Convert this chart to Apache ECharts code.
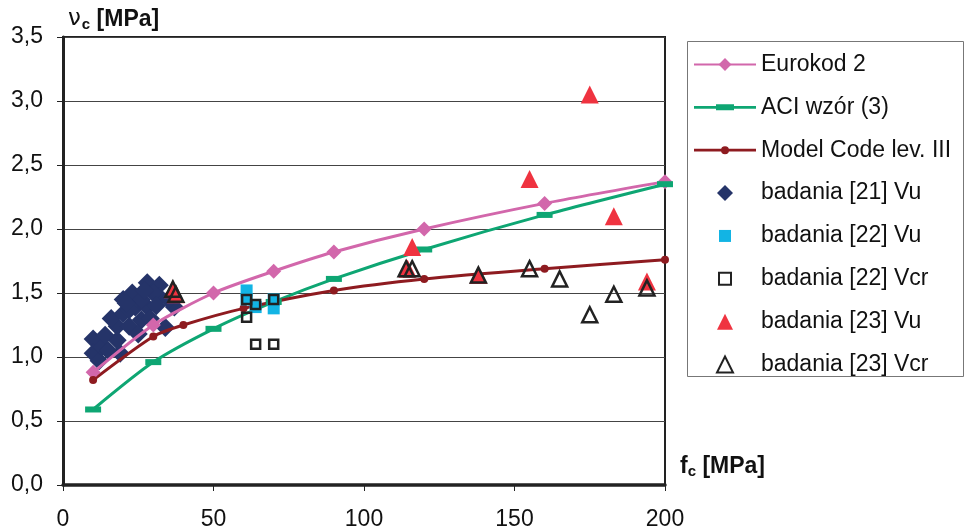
<!DOCTYPE html>
<html><head><meta charset="utf-8">
<script src="https://cdn.jsdelivr.net/npm/echarts@6/dist/echarts.min.js"></script>
<style>html,body{margin:0;padding:0;background:#fff}#c{width:964px;height:532px}</style>
</head><body><div id="c"></div>
<script>
// ---- data ----
const xTicks = [0, 50, 100, 150, 200];
const yTicks = [0, 0.5, 1.0, 1.5, 2.0, 2.5, 3.0, 3.5];

const ec2X = [10, 30, 50, 70, 90, 120, 160, 200];
const ec2Y = [0.88, 1.25, 1.50, 1.67, 1.82, 2.00, 2.20, 2.37];

const aciX = [10, 30, 50, 70, 90, 120, 160, 200];
const aciY = [0.59, 0.96, 1.22, 1.43, 1.61, 1.84, 2.11, 2.35];

const mcX = [10, 30, 40, 60, 90, 120, 160, 200];
const mcY = [0.82, 1.16, 1.25, 1.38, 1.52, 1.61, 1.69, 1.76];

const b21Vu = [[10,1.14],[10,1.03],[12,0.97],[13,1.08],[15,1.05],[19,1.03],[18,1.13],[18,1.24],
  [16,1.30],[20,1.34],[20,1.45],[23,1.50],[24,1.39],[28,1.58],[32,1.56],[32,1.47],[28,1.39],
  [26,1.29],[37,1.39],[34,1.23],[22,1.24],[22,1.37],[26,1.45],[30,1.50],[25,1.18],[35,1.45],[29,1.30],
  [14,1.17],[21,1.42],[27,1.52],[31,1.40]];
const b22Vu = [[61,1.52],[61,1.45],[64,1.39],[70,1.45],[70,1.38]];
const b22Vcr = [[61,1.45],[64,1.41],[70,1.45],[61,1.31],[64,1.10],[70,1.10]];
const b23Vu = [[36.5,1.53],[37.5,1.49],[114.5,1.69],[116,1.86],[138,1.64],[155,2.39],[175,3.05],[183,2.10],[194,1.59]];
const b23Vcr = [[36.5,1.53],[37.5,1.49],[114,1.69],[116,1.69],[138,1.64],[155,1.69],[165,1.61],[175,1.33],[183,1.49],[194,1.54]];

const names = ['Eurokod 2', 'ACI wzór (3)', 'Model Code lev. III', 'badania [21] Vu',
  'badania [22] Vu', 'badania [22] Vcr', 'badania [23] Vu', 'badania [23] Vcr'];

// ---- chart ----
const zip = (xs, ys) => xs.map((x, i) => [x, ys[i]]);
const FONT = '"Liberation Sans", Arial, sans-serif';
const chart = echarts.init(document.getElementById('c'), null, {renderer: 'canvas'});

const ROW = 42.86, T0 = 51.5, L0 = 693, IW = 62;
// legend box is positioned by its visible bounds, so shift by the empty part of the icon box
const legendBase = (top, h, data, narrow) => ({
  orient: 'vertical', left: narrow ? L0 + (IW - h) / 2 : L0, top: top, padding: 0,
  itemWidth: IW, itemHeight: h, itemGap: ROW - 26, symbolKeepAspect: true,
  textStyle: {fontSize: 23, color: '#111', fontFamily: FONT, lineHeight: 26},
  data: data
});
const aciIcon = 'path://M0,1.6 L22,1.6 L22,0 L40,0 L40,1.6 L62,1.6 L62,4.4 L40,4.4 L40,6 L22,6 L22,4.4 L0,4.4 Z';
const mcIcon = 'path://M0,2.6 L27.2,2.6 L27.2,5.4 L0,5.4 Z M34.8,2.6 L62,2.6 L62,5.4 L34.8,5.4 Z M27,4 A4,4 0 1,1 35,4 A4,4 0 1,1 27,4 Z';
const diamondIcon = 'path://M8,0 L16,8 L8,16 L0,8 Z';
const squareIcon = 'path://M0,0 L10,0 L10,10 L0,10 Z';
const triIcon = 'path://M8,0 L16,16 L0,16 Z';

chart.setOption({
  animation: false,
  textStyle: {fontFamily: FONT},
  grid: {left: 63, right: 299, top: 37, bottom: 47, show: true, borderColor: '#222', borderWidth: 2, containLabel: false},
  graphic: [{type: 'rect', shape: {x: 687.5, y: 41.5, width: 276, height: 335},
    style: {fill: 'none', stroke: '#777', lineWidth: 1}, silent: true}],
  legend: [
    legendBase(T0, 16, [{name: names[0]}, {name: names[1], icon: aciIcon}, {name: names[2], icon: mcIcon}, {name: names[3], icon: diamondIcon}], false),
    legendBase(T0 + 4 * ROW, 12, [{name: names[4], icon: squareIcon}, {name: names[5], icon: squareIcon}], true),
    legendBase(T0 + 6 * ROW, 16, [{name: names[6], icon: triIcon}, {name: names[7], icon: triIcon}], true)
  ],
  xAxis: {
    type: 'value', min: 0, max: 200, interval: 50,
    name: '{f|f}{s|c}{b| [MPa]}', nameLocation: 'end', nameGap: 15,
    nameTextStyle: {
      align: 'left', verticalAlign: 'bottom', padding: [0, 0, 6, 0],
      rich: {
        f: {fontSize: 23, fontWeight: 'bold', color: '#111', fontFamily: FONT},
        s: {fontSize: 15, fontWeight: 'bold', color: '#111', fontFamily: FONT, padding: [10, 0, 0, 0]},
        b: {fontSize: 23, fontWeight: 'bold', color: '#111', fontFamily: FONT}
      }
    },
    axisLine: {show: true, lineStyle: {color: '#222', width: 3.5}},
    axisTick: {show: true, length: 6, lineStyle: {color: '#222', width: 1}},
    axisLabel: {fontSize: 23, color: '#111', margin: 23, fontFamily: FONT,
      formatter: v => xTicks.includes(v) ? String(v) : ''},
    splitLine: {show: false}
  },
  yAxis: {
    type: 'value', min: 0, max: 3.5, interval: 0.5,
    name: '{n|ν}{s|c}{b| [MPa]}', nameLocation: 'end', nameGap: 5,
    nameTextStyle: {
      align: 'left', verticalAlign: 'bottom', padding: [0, 0, 0, 5],
      rich: {
        n: {fontSize: 23, color: '#111', fontFamily: '"DejaVu Sans", sans-serif'},
        s: {fontSize: 15, fontWeight: 'bold', color: '#111', fontFamily: FONT, padding: [10, 0, 0, 1]},
        b: {fontSize: 23, fontWeight: 'bold', color: '#111', fontFamily: FONT}
      }
    },
    axisLine: {show: true, lineStyle: {color: '#222', width: 3}},
    axisTick: {show: true, length: 6, lineStyle: {color: '#222', width: 1}},
    axisLabel: {fontSize: 23, color: '#111', margin: 20, fontFamily: FONT,
      formatter: v => yTicks.some(t => Math.abs(t - v) < 1e-9) ? v.toFixed(1).replace('.', ',') : ''},
    splitLine: {show: true, lineStyle: {color: '#444', width: 1}}
  },
  series: [
    {name: names[0], type: 'line', data: zip(ec2X, ec2Y), smooth: 0.25, z: 3,
      symbol: 'diamond', symbolSize: 15, lineStyle: {color: '#d267ab', width: 3}, itemStyle: {color: '#d267ab'}},
    {name: names[1], type: 'line', data: zip(aciX, aciY), smooth: 0.25, z: 3,
      symbol: 'rect', symbolSize: [16, 6], lineStyle: {color: '#0ea673', width: 3}, itemStyle: {color: '#0ea673'}},
    {name: names[2], type: 'line', data: zip(mcX, mcY), smooth: 0.25, z: 3,
      symbol: 'circle', symbolSize: 8, lineStyle: {color: '#8e1b20', width: 3}, itemStyle: {color: '#8e1b20'}},
    {name: names[3], type: 'scatter', data: b21Vu, z: 2, symbol: 'diamond', symbolSize: 19,
      itemStyle: {color: '#253469', opacity: 1}},
    {name: names[4], type: 'scatter', data: b22Vu, z: 4, symbol: 'rect', symbolSize: 12,
      itemStyle: {color: '#12b4e4', opacity: 1}},
    {name: names[5], type: 'scatter', data: b22Vcr, z: 5, symbol: 'rect', symbolSize: 9,
      itemStyle: {color: 'rgba(255,255,255,0)', borderColor: '#222', borderWidth: 2.5, opacity: 1}},
    {name: names[6], type: 'scatter', data: b23Vu, z: 4, symbol: 'triangle', symbolSize: 18,
      itemStyle: {color: '#ef3340', opacity: 1}},
    {name: names[7], type: 'scatter', data: b23Vcr, z: 5, symbol: 'triangle', symbolSize: 15,
      itemStyle: {color: 'rgba(255,255,255,0)', borderColor: '#222', borderWidth: 2.5, opacity: 1}}
  ]
});
</script></body></html>
